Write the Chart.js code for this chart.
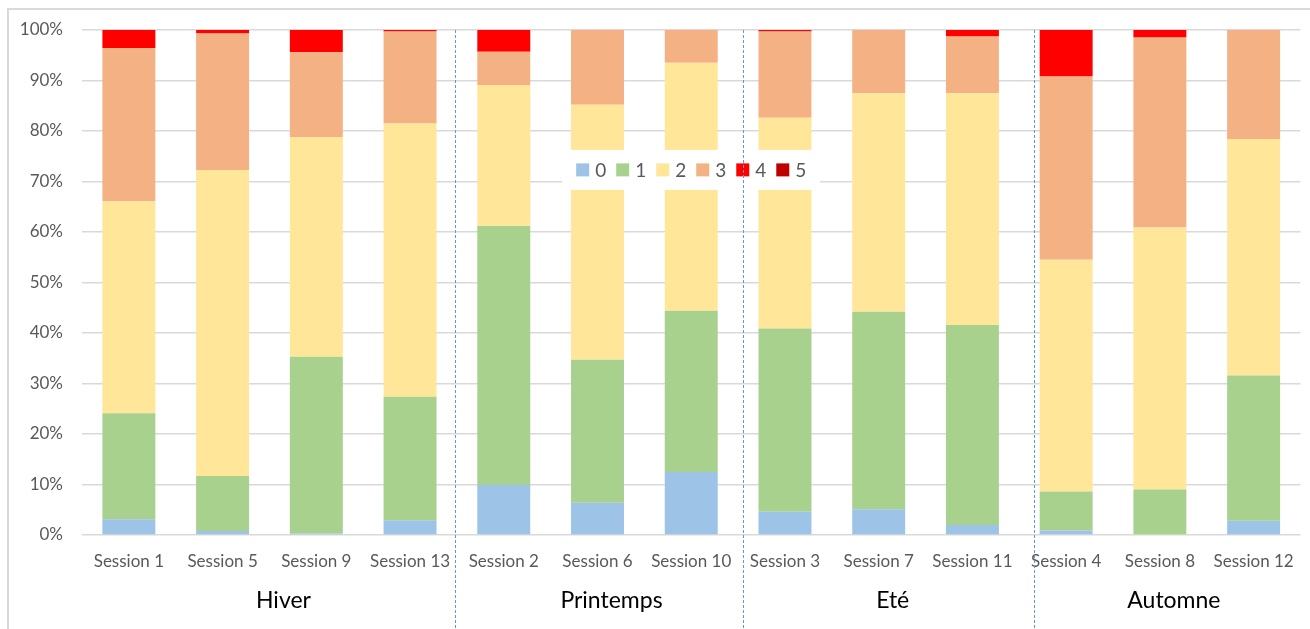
<!DOCTYPE html>
<html>
<head>
<meta charset="utf-8">
<script src="https://cdn.jsdelivr.net/npm/chart.js@4.4.0/dist/chart.umd.min.js"></script>
<style>
  html, body { margin: 0; padding: 0; background: #fff; }
  #wrap { width: 1310px; height: 629px; }
</style>
</head>
<body>
<div id="wrap"><canvas id="myChart" width="1310" height="629"></canvas></div>
<script>
// sessions in display order, grouped by season
const sessions = ['Session 1', 'Session 5', 'Session 9', 'Session 13',
  'Session 2', 'Session 6', 'Session 10',
  'Session 3', 'Session 7', 'Session 11',
  'Session 4', 'Session 8', 'Session 12'];
const seasons = ['Hiver', 'Printemps', 'Eté', 'Automne'];
const seasonSizes = [4, 3, 3, 3];
// where the dashed separators sit, in category units
const seasonBreaks = [3.48, 6.55, 9.66];
const yTicks = [0, 10, 20, 30, 40, 50, 60, 70, 80, 90, 100];

const levels = ['0', '1', '2', '3', '4', '5'];
const level0 = [3.1, 0.8, 0.3, 2.9, 9.9, 6.4, 12.5, 4.6, 5.1, 2.0, 0.9, 0.0, 2.8];
const level1 = [21.0, 10.9, 35.0, 24.5, 51.3, 28.3, 31.9, 36.3, 39.1, 39.6, 7.7, 9.0, 28.8];
const level2 = [42.0, 60.6, 43.5, 54.1, 27.9, 50.5, 49.1, 41.7, 43.3, 45.9, 45.9, 51.9, 46.8];
const level3 = [30.3, 27.0, 16.8, 18.2, 6.6, 14.8, 6.5, 17.1, 12.5, 11.2, 36.3, 37.6, 21.6];
const level4 = [3.6, 0.7, 4.4, 0.3, 4.3, 0, 0, 0.3, 0, 1.3, 9.2, 1.5, 0];
const level5 = [0, 0, 0, 0, 0, 0, 0, 0, 0, 0, 0, 0, 0];
const levelColors = ['#9DC3E6', '#A9D18E', '#FFE699', '#F4B183', '#FF0000', '#C00000'];

const FONT = 'Lato, Calibri, "Open Sans", sans-serif';
const GREY_TEXT = '#595959';

const frame = {
  id: 'frame',
  beforeDraw(chart) {
    const ctx = chart.ctx;
    ctx.save();
    ctx.strokeStyle = '#d9d9d9';
    ctx.lineWidth = 2;
    ctx.beginPath();
    ctx.moveTo(8, chart.height);
    ctx.lineTo(8, 9);
    ctx.lineTo(chart.width, 9);
    ctx.stroke();
    ctx.restore();
  }
};

// legend sitting in the middle of the plot, white box behind it
const middleLegend = {
  id: 'middleLegend',
  afterDatasetsDraw(chart) {
    const ctx = chart.ctx;
    const area = chart.chartArea;
    const box = 13, gap = 6, pad = 10;
    ctx.save();
    ctx.font = '19px ' + FONT;
    const items = chart.data.datasets.map(ds => ({
      label: ds.label, color: ds.backgroundColor, w: ctx.measureText(ds.label).width
    }));
    let total = items.reduce((a, it) => a + box + gap + it.w, 0) + pad * (items.length - 1);
    const cx = (area.left + area.right) / 2;
    const cy = chart.scales.y.getPixelForValue(72.3);
    ctx.fillStyle = '#ffffff';
    ctx.fillRect(cx - total / 2 - 14, cy - 20, total + 28, 40);
    let x = cx - total / 2;
    ctx.textBaseline = 'middle';
    items.forEach(it => {
      ctx.fillStyle = it.color;
      ctx.fillRect(x, cy - box / 2, box, box);
      ctx.fillStyle = GREY_TEXT;
      ctx.fillText(it.label, x + box + gap, cy + 1);
      x += box + gap + it.w + pad;
    });
    ctx.restore();
  }
};

const seasonGroups = {
  id: 'seasonGroups',
  afterDraw(chart) {
    const ctx = chart.ctx;
    const xs = chart.scales.x;
    ctx.save();
    // dashed separators
    ctx.strokeStyle = '#5B9BD5';
    ctx.lineWidth = 1;
    ctx.setLineDash([3, 2]);
    seasonBreaks.forEach(v => {
      const px = Math.round(xs.getPixelForValue(v)) + 0.5;
      ctx.beginPath();
      ctx.moveTo(px, chart.chartArea.top);
      ctx.lineTo(px, chart.height);
      ctx.stroke();
    });
    ctx.setLineDash([]);
    // season names
    ctx.font = '23px ' + FONT;
    ctx.fillStyle = '#000000';
    ctx.textAlign = 'center';
    ctx.textBaseline = 'middle';
    let start = 0;
    seasons.forEach((name, i) => {
      const end = start + seasonSizes[i] - 1;
      const px = (xs.getPixelForValue(start) + xs.getPixelForValue(end)) / 2 + 14;
      ctx.fillText(name, px, 601);
      start = end + 1;
    });
    ctx.restore();
  }
};

const seriesData = [level0, level1, level2, level3, level4, level5];

new Chart(document.getElementById('myChart').getContext('2d'), {
  type: 'bar',
  data: {
    labels: sessions,
    datasets: levels.map((lvl, i) => ({
      label: lvl,
      data: seriesData[i],
      backgroundColor: levelColors[i],
      borderWidth: 0,
      barPercentage: 0.565,
      categoryPercentage: 1.0,
    })),
  },
  options: {
    responsive: false,
    animation: false,
    layout: { padding: { top: 30, right: 8, left: 0, bottom: 0 } },
    plugins: {
      legend: { display: false },
      tooltip: { enabled: false },
    },
    scales: {
      x: {
        stacked: true,
        grid: { display: false, drawTicks: false },
        border: { display: false },
        ticks: { color: GREY_TEXT, font: { family: FONT, size: 17 }, padding: 16, maxRotation: 0 },
        afterFit(s) { s.height = 94; },
      },
      y: {
        stacked: true,
        min: 0,
        max: 100,
        afterBuildTicks(s) { s.ticks = yTicks.map(v => ({ value: v })); },
        grid: { color: '#d9d9d9', lineWidth: 1.5, drawTicks: false },
        border: { display: false },
        ticks: {
          color: GREY_TEXT,
          font: { family: FONT, size: 17 },
          padding: 19,
          callback: v => v + '%',
        },
        afterFit(s) { s.width = 82; },
      },
    },
  },
  plugins: [frame, middleLegend, seasonGroups],
});
</script>
</body>
</html>
